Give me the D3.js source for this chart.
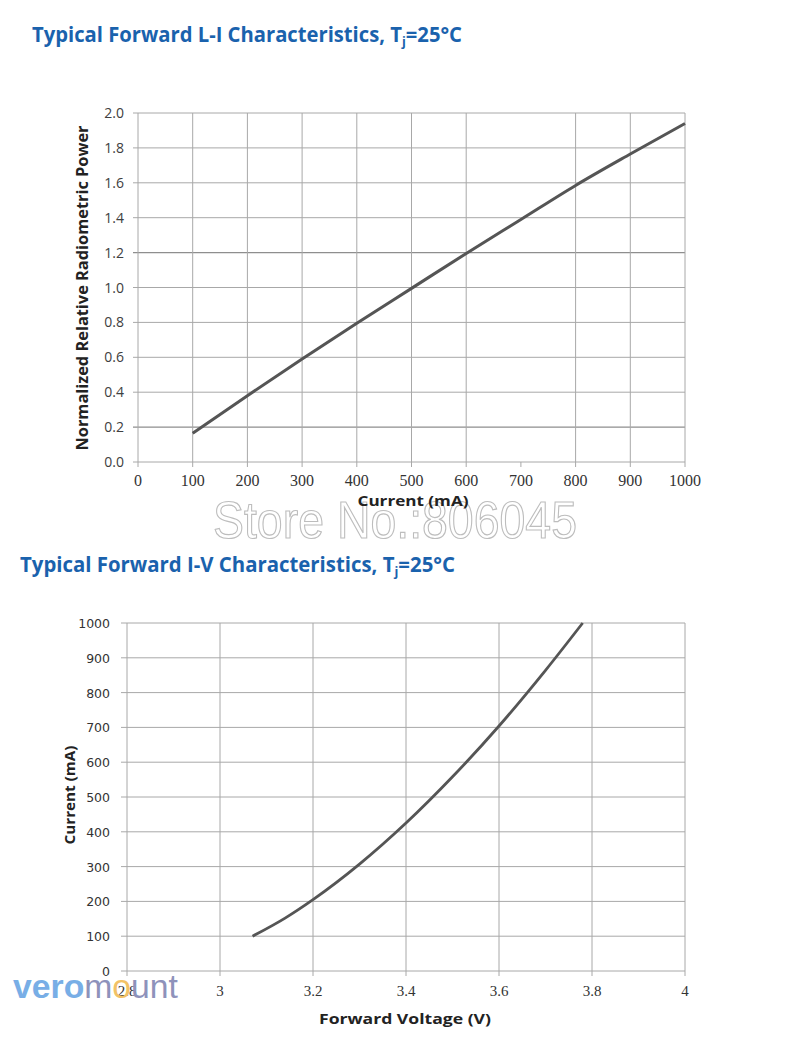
<!DOCTYPE html>
<html>
<head>
<meta charset="utf-8">
<script src="https://cdn.jsdelivr.net/npm/d3@7/dist/d3.min.js"></script>
<style>
  html, body { margin: 0; padding: 0; background: #fff; }
  svg { display: block; }
  .serif { font-family: "Liberation Serif", "Times New Roman", "DejaVu Serif", serif; }
</style>
</head>
<body>
<svg id="chart" width="800" height="1041"></svg>
<script>
// ---------- DATA ----------
// Chart 1: L-I characteristics
const liCurrent = [100, 200, 300, 400, 500, 600, 700, 800, 900, 1000];
const liPower   = [0.165, 0.38, 0.59, 0.795, 0.995, 1.195, 1.39, 1.585, 1.765, 1.94];
const liXTicks  = [0, 100, 200, 300, 400, 500, 600, 700, 800, 900, 1000];
const liXGrid   = [100, 200, 300, 400, 500, 600, 800, 900, 1000];
const liYTicks  = [0, 0.2, 0.4, 0.6, 0.8, 1.0, 1.2, 1.4, 1.6, 1.8, 2.0];

// Chart 2: I-V characteristics
const ivVoltage = [3.07, 3.14, 3.2, 3.3, 3.4, 3.5, 3.6, 3.7, 3.78];
const ivCurrent = [100, 152, 205, 307, 425, 558, 704, 864, 1000];
const ivXTicks  = [2.8, 3, 3.2, 3.4, 3.6, 3.8, 4];
const ivYTicks  = [0, 100, 200, 300, 400, 500, 600, 700, 800, 900, 1000];

// ---------- DRAW ----------
const svg = d3.select("#chart");
const gridColor = "#a8a8a8";
const lineColor = "#555555";
const sans = "'Open Sans', 'Noto Sans', sans-serif";

function title(txt, x, y, width) {
  const t = svg.append("text").attr("x", x).attr("y", y)
    .attr("font-family", sans).attr("font-weight", 700).attr("font-size", 21)
    .attr("fill", "#1a62ad");
  t.append("tspan").text(txt);
  t.append("tspan").attr("font-size", 13).attr("dy", 4).text("j");
  t.append("tspan").attr("dy", -4).text("=25°C");
  t.attr("textLength", width).attr("lengthAdjust", "spacingAndGlyphs");
}

title("Typical Forward L-I Characteristics, T", 32, 42, 430);
title("Typical Forward I-V Characteristics, T", 20, 572, 435);

// ===== Chart 1 =====
const x1 = d3.scaleLinear().domain([0, 1000]).range([138, 685]);
const y1 = d3.scaleLinear().domain([0, 2]).range([462, 113]);
const g1 = svg.append("g");

g1.selectAll("line.hg").data(liYTicks).join("line").attr("class", "hg")
  .attr("x1", x1(0) - 5).attr("x2", x1(1000))
  .attr("y1", d => y1(d)).attr("y2", d => y1(d))
  .attr("stroke", d => (d === 1.2 || d === 0.2) ? "#8e8e8e" : gridColor)
  .attr("stroke-width", d => (d === 1.2 || d === 0.2) ? 1.4 : 1);

g1.selectAll("line.vg").data(liXGrid).join("line").attr("class", "vg")
  .attr("x1", d => x1(d)).attr("x2", d => x1(d))
  .attr("y1", y1(2)).attr("y2", y1(0))
  .attr("stroke", gridColor).attr("stroke-width", 1);

g1.append("line").attr("x1", x1(0)).attr("x2", x1(0))
  .attr("y1", y1(2)).attr("y2", y1(0)).attr("stroke", gridColor).attr("stroke-width", 1);

g1.selectAll("line.xt").data(liXTicks).join("line").attr("class", "xt")
  .attr("x1", d => x1(d)).attr("x2", d => x1(d))
  .attr("y1", y1(0)).attr("y2", y1(0) + 5)
  .attr("stroke", gridColor).attr("stroke-width", 1);

g1.selectAll("text.yl").data(liYTicks).join("text").attr("class", "yl")
  .attr("x", 124).attr("y", d => y1(d) + 5)
  .attr("text-anchor", "end").attr("font-family", sans).attr("font-size", 14)
  .attr("fill", "#404040").text(d => d3.format(".1f")(d));

g1.selectAll("text.xl").data(liXTicks).join("text").attr("class", "xl serif")
  .attr("x", d => x1(d)).attr("y", 486)
  .attr("text-anchor", "middle").attr("font-size", 16)
  .attr("fill", "#333").text(d => String(d));

const line1 = d3.line().x(d => x1(d[0])).y(d => y1(d[1])).curve(d3.curveMonotoneX);
g1.append("path").datum(d3.zip(liCurrent, liPower))
  .attr("d", line1).attr("fill", "none").attr("stroke", lineColor)
  .attr("stroke-width", 3);

g1.append("text").attr("transform", "translate(88,288) rotate(-90)")
  .attr("text-anchor", "middle").attr("font-family", sans).attr("font-weight", 700)
  .attr("font-size", 16).attr("fill", "#222")
  .attr("textLength", 325).attr("lengthAdjust", "spacingAndGlyphs")
  .text("Normalized Relative Radiometric Power");

// watermark
svg.append("text").attr("x", 213).attr("y", 538)
  .attr("font-family", "'Liberation Sans', Arial, sans-serif").attr("font-size", 52)
  .attr("fill", "#fff").attr("stroke", "#bdbdbd").attr("stroke-width", 1.2)
  .attr("textLength", 364).attr("lengthAdjust", "spacingAndGlyphs")
  .text("Store No.:806045");

svg.append("text").attr("x", 413).attr("y", 506)
  .attr("text-anchor", "middle").attr("font-family", sans).attr("font-weight", 700)
  .attr("font-size", 15).attr("fill", "#222")
  .attr("textLength", 111).attr("lengthAdjust", "spacingAndGlyphs")
  .text("Current (mA)");

// ===== Chart 2 =====
const x2 = d3.scaleLinear().domain([2.8, 4]).range([127, 685]);
const y2 = d3.scaleLinear().domain([0, 1000]).range([971, 623]);
const g2 = svg.append("g");

g2.selectAll("line.hg").data(ivYTicks).join("line").attr("class", "hg")
  .attr("x1", x2(2.8) - 6).attr("x2", x2(4))
  .attr("y1", d => y2(d)).attr("y2", d => y2(d))
  .attr("stroke", gridColor).attr("stroke-width", 1);

g2.selectAll("line.vg").data(ivXTicks).join("line").attr("class", "vg")
  .attr("x1", d => x2(d)).attr("x2", d => x2(d))
  .attr("y1", y2(1000)).attr("y2", y2(0) + 5)
  .attr("stroke", gridColor).attr("stroke-width", 1);

g2.selectAll("text.yl").data(ivYTicks).join("text").attr("class", "yl")
  .attr("x", 110).attr("y", d => y2(d) + 5)
  .attr("text-anchor", "end").attr("font-family", "'DejaVu Sans', sans-serif").attr("font-size", 12.5)
  .attr("fill", "#333").text(d => String(d));

const line2 = d3.line().x(d => x2(d[0])).y(d => y2(d[1])).curve(d3.curveMonotoneX);
g2.append("path").datum(d3.zip(ivVoltage, ivCurrent))
  .attr("d", line2).attr("fill", "none").attr("stroke", lineColor)
  .attr("stroke-width", 2.8);

g2.append("text").attr("transform", "translate(75,795) rotate(-90)")
  .attr("text-anchor", "middle").attr("font-family", sans).attr("font-weight", 700)
  .attr("font-size", 15).attr("fill", "#222")
  .attr("textLength", 99).attr("lengthAdjust", "spacingAndGlyphs")
  .text("Current (mA)");

// logo
const logo = svg.append("text").attr("x", 13).attr("y", 998)
  .attr("font-family", "'Liberation Sans', Arial, sans-serif").attr("font-size", 33)
  .attr("textLength", 165).attr("lengthAdjust", "spacingAndGlyphs");
logo.append("tspan").attr("font-weight", 700).attr("fill", "#78aee6").text("vero");
logo.append("tspan").attr("fill", "#8e92bb").text("m");
logo.append("tspan").attr("fill", "#f2c266").text("o");
logo.append("tspan").attr("fill", "#8e92bb").text("unt");

g2.selectAll("text.xl").data(ivXTicks).join("text").attr("class", "xl serif")
  .attr("x", d => x2(d)).attr("y", 996)
  .attr("text-anchor", "middle").attr("font-size", 15)
  .attr("fill", "#333").text(d => String(d));

svg.append("text").attr("x", 405).attr("y", 1024)
  .attr("text-anchor", "middle").attr("font-family", sans).attr("font-weight", 700)
  .attr("font-size", 15).attr("fill", "#222")
  .attr("textLength", 172).attr("lengthAdjust", "spacingAndGlyphs")
  .text("Forward Voltage (V)");
</script>
</body>
</html>
